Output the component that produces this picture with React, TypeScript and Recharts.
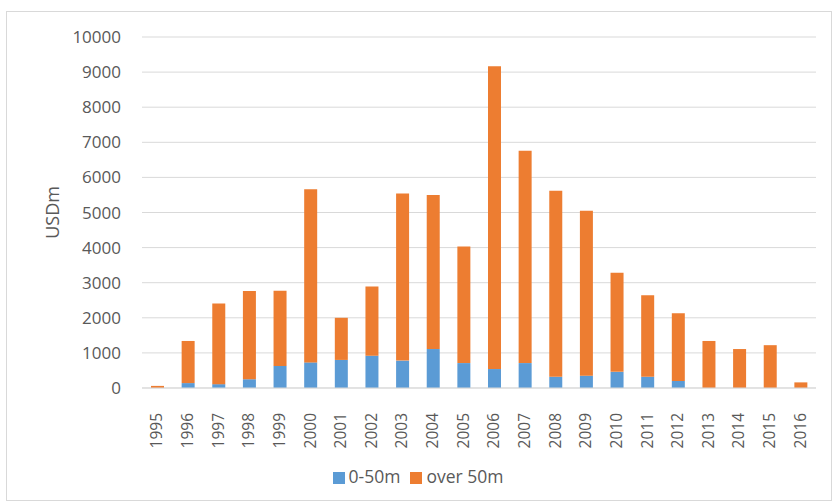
import React from 'react';
import { BarChart, Bar, XAxis, YAxis, CartesianGrid, Legend, Label } from 'recharts';

const years = ['1995','1996','1997','1998','1999','2000','2001','2002','2003','2004','2005','2006','2007','2008','2009','2010','2011','2012','2013','2014','2015','2016'];
const small = [0, 140, 110, 250, 630, 730, 800, 920, 780, 1110, 710, 540, 710, 320, 350, 460, 320, 200, 0, 0, 0, 0];
const large = [60, 1200, 2300, 2510, 2140, 4930, 1200, 1970, 4760, 4390, 3320, 8630, 6050, 5300, 4700, 2820, 2320, 1930, 1340, 1110, 1220, 160];
const yTicks = [0, 1000, 2000, 3000, 4000, 5000, 6000, 7000, 8000, 9000, 10000];

const data = years.map((y, i) => ({ year: y, small: small[i], large: large[i] }));

const FONT = '"Open Sans", sans-serif';
const TEXT = '#595959';

const XTick = (props: any) => {
  const { x, y, payload } = props;
  return (
    <text
      x={0}
      y={0}
      transform={`translate(${x + 5},${y + 17}) rotate(-90)`}
      textAnchor="end"
      fill={TEXT}
      fontSize={15.5}
      fontFamily={FONT}
    >
      {payload.value}
    </text>
  );
};

export default function App() {
  return (
    <div style={{ position: 'absolute', left: 0, top: 0, width: 835, height: 502, background: '#fff' }}>
      <div style={{ position: 'absolute', left: 6, top: 11, width: 824, height: 488, border: '1px solid #d9d9d9' }} />
      <BarChart
        width={835}
        height={502}
        data={data}
        margin={{ top: 37, right: 19, left: 30, bottom: 4 }}
        barCategoryGap={0}
        style={{ fontFamily: FONT }}
      >
        <CartesianGrid vertical={false} stroke="#d9d9d9" />
        <XAxis
          dataKey="year"
          tick={<XTick />}
          tickLine={false}
          axisLine={{ stroke: '#d9d9d9' }}
          height={76}
          interval={0}
        />
        <YAxis
          ticks={yTicks}
          domain={[0, 10000]}
          tickLine={false}
          axisLine={false}
          tickSize={0}
          tickMargin={21}
          width={112}
          tick={{ fill: TEXT, fontSize: 17, fontFamily: FONT }}
        >
          <Label value="USDm" angle={-90} position="center" dx={-33} fill={TEXT} fontSize={18} fontFamily={FONT} />
        </YAxis>
        <Legend
          verticalAlign="bottom"
          align="center"
          iconType="square"
          iconSize={12}
          wrapperStyle={{ height: 34, fontSize: 17.5, fontFamily: FONT }}
          formatter={(value: string) => <span style={{ color: TEXT }}>{value}</span>}
        />
        <Bar dataKey="small" name="0-50m" stackId="a" fill="#5B9BD5" barSize={13} isAnimationActive={false} />
        <Bar dataKey="large" name="over 50m" stackId="a" fill="#ED7D31" barSize={13} isAnimationActive={false} />
      </BarChart>
    </div>
  );
}
